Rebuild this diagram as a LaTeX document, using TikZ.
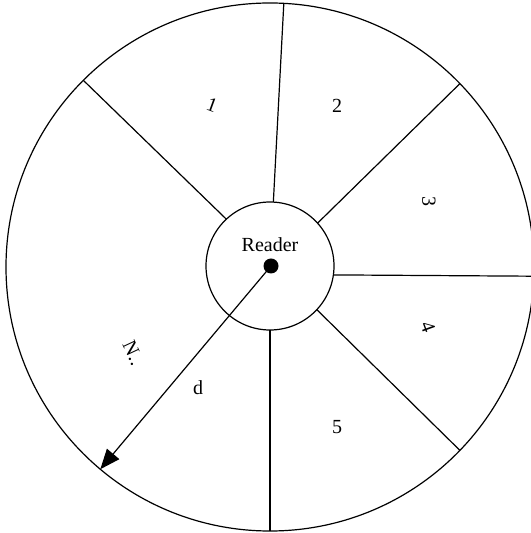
\documentclass[tikz,border=0pt]{standalone}
\usepackage{fontspec}
\setmainfont{Liberation Serif}
\usetikzlibrary{arrows.meta}
\tikzset{
  ring/.style={circle, draw, line width=0.6pt, inner sep=0pt, outer sep=0pt},
  spoke/.style={line width=0.6pt},
  sector/.style={font=\normalsize, inner sep=1pt}
}
\begin{document}
\begin{tikzpicture}[x=0.5pt, y=0.5pt]
    \useasboundingbox (-270,-267) rectangle (260,266);
    % Circles
    \node (outer) [ring, minimum size=264pt] at (0,-1) {};
    \node (reader) [ring, minimum size=64pt] at (0,0) {};
    \node (hub) [circle, fill=black, inner sep=0pt, minimum size=7.5pt] at (1,0) {};
    \node (rlabel) [sector] at (0,21) {Reader};

    % Spokes
    \draw[spoke] (reader.133.8) -- (outer.135.2);
    \draw[spoke] (reader.87.4) -- (outer.87.8);
    \draw[spoke] (reader.42.5) -- (outer.44.4);
    \draw[spoke] (reader.-8.9) -- (outer.-2.0);
    \draw[spoke] (reader.-43.7) -- (outer.-44.7);
    \draw[spoke] (reader.-90) -- (outer.-90);

    % The radius
    \draw[spoke, -{Triangle[length=10pt, width=8pt]}] (hub.center) -- (outer.230.8);

    % Sector numbers
    \node (s1) [sector, rotate=-20] at (-58,161) {1};
    \node (s2) [sector] at (67,160) {2};
    \node (s3) [sector, rotate=-90] at (159,64) {3};
    \node (s4) [sector, rotate=-70] at (158,-61) {4};
    \node (s5) [sector] at (67,-161) {5};
    \node (sN) [sector, rotate=-65] at (-137,-87) {N..};
    \node (dlabel) [sector] at (-72,-122) {d};
\end{tikzpicture}
\end{document}
